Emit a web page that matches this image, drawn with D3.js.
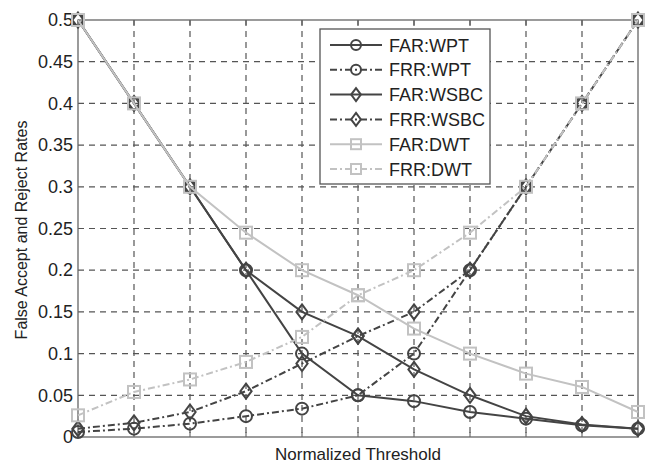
<!DOCTYPE html>
<html>
<head>
<meta charset="utf-8">
<script src="https://cdn.jsdelivr.net/npm/d3@7"></script>
<style>
  body { margin: 0; background: #fff; }
  text { font-family: "Liberation Sans", Arial, sans-serif; fill: #222; }
</style>
</head>
<body>
<svg id="chart" width="646" height="463"></svg>
<script>
// thresholds (no labels on x axis)
var thresholds = [0, 1, 2, 3, 4, 5, 6, 7, 8, 9, 10];
var yTicks = [0, 0.05, 0.1, 0.15, 0.2, 0.25, 0.3, 0.35, 0.4, 0.45, 0.5];

var far_wpt  = [0.5, 0.4, 0.3, 0.2, 0.1, 0.05, 0.043, 0.03, 0.022, 0.014, 0.01];
var frr_wpt  = [0.006, 0.01, 0.016, 0.025, 0.034, 0.05, 0.1, 0.2, 0.3, 0.4, 0.5];
var far_wsbc = [0.5, 0.4, 0.3, 0.2, 0.15, 0.121, 0.081, 0.05, 0.025, 0.015, 0.01];
var frr_wsbc = [0.01, 0.017, 0.03, 0.055, 0.088, 0.121, 0.15, 0.2, 0.3, 0.4, 0.5];
var far_dwt  = [0.5, 0.4, 0.3, 0.245, 0.2, 0.17, 0.13, 0.1, 0.076, 0.06, 0.03];
var frr_dwt  = [0.026, 0.054, 0.069, 0.09, 0.12, 0.17, 0.2, 0.245, 0.3, 0.4, 0.5];

var dark = "#444444", light = "#c2c2c2";
var dashDot = "7,3,2,3";

var series = [
  {name: "FAR:WPT",  values: far_wpt,  color: dark,  dash: null,    marker: "circle"},
  {name: "FRR:WPT",  values: frr_wpt,  color: dark,  dash: dashDot, marker: "circle"},
  {name: "FAR:WSBC", values: far_wsbc, color: dark,  dash: null,    marker: "diamond"},
  {name: "FRR:WSBC", values: frr_wsbc, color: dark,  dash: dashDot, marker: "diamond"},
  {name: "FAR:DWT",  values: far_dwt,  color: light, dash: null,    marker: "square"},
  {name: "FRR:DWT",  values: frr_dwt,  color: light, dash: dashDot, marker: "square"}
];

var svg = d3.select("#chart");
var mLeft = 78, mRight = 638, mTop = 20, mBottom = 437;

var x = d3.scaleLinear().domain([0, 10]).range([mLeft, mRight]);
var y = d3.scaleLinear().domain([0, 0.5]).range([mBottom, mTop]);

// grid
var grid = svg.append("g");
grid.selectAll(".vg").data(thresholds.slice(1, -1)).enter().append("line")
    .attr("x1", d => x(d)).attr("x2", d => x(d))
    .attr("y1", mTop).attr("y2", mBottom)
    .attr("stroke", "#555").attr("stroke-width", 1.2).attr("stroke-dasharray", "6,5");
grid.selectAll(".hg").data(yTicks.slice(1, -1)).enter().append("line")
    .attr("x1", mLeft).attr("x2", mRight)
    .attr("y1", d => y(d)).attr("y2", d => y(d))
    .attr("stroke", "#555").attr("stroke-width", 1.2).attr("stroke-dasharray", "6,5");

// axes
var yAxis = d3.axisLeft(y).tickValues(yTicks).tickSize(0).tickPadding(5)
    .tickFormat(d => d3.format("~g")(d));
var gy = svg.append("g").attr("transform", "translate(" + mLeft + ",0)").call(yAxis);
gy.select(".domain").remove();
gy.selectAll("text").style("font-size", "18px").attr("fill", "#222");

// ticks along bottom and top (inward)
svg.append("g").selectAll("line").data(thresholds).enter().append("line")
    .attr("x1", d => x(d)).attr("x2", d => x(d))
    .attr("y1", mBottom).attr("y2", mBottom - 5)
    .attr("stroke", "#555");
svg.append("g").selectAll("line").data(thresholds).enter().append("line")
    .attr("x1", d => x(d)).attr("x2", d => x(d))
    .attr("y1", mTop).attr("y2", mTop + 5)
    .attr("stroke", "#555");

svg.append("rect").attr("x", mLeft).attr("y", mTop)
    .attr("width", mRight - mLeft).attr("height", mBottom - mTop)
    .attr("fill", "none").attr("stroke", "#666").attr("stroke-width", 1.3);

// markers
function drawMarker(g, m, cx, cy, color, r) {
  if (m === "circle") {
    g.append("circle").attr("cx", cx).attr("cy", cy).attr("r", r)
      .attr("fill", "none").attr("stroke", color).attr("stroke-width", 2);
  } else if (m === "diamond") {
    var s = r + 1.5;
    g.append("path")
      .attr("d", "M" + cx + "," + (cy - s) + "L" + (cx + s * 0.75) + "," + cy +
                 "L" + cx + "," + (cy + s) + "L" + (cx - s * 0.75) + "," + cy + "Z")
      .attr("fill", "none").attr("stroke", color).attr("stroke-width", 2);
  } else {
    g.append("rect").attr("x", cx - r).attr("y", cy - r)
      .attr("width", 2 * r).attr("height", 2 * r)
      .attr("fill", "none").attr("stroke", color).attr("stroke-width", 2);
  }
}

var line = d3.line().x((d, i) => x(thresholds[i])).y(d => y(d));

// plotted in legend order, so later series sit on top
series.forEach(function(s) {
  var g = svg.append("g");
  g.append("path").attr("d", line(s.values))
    .attr("fill", "none").attr("stroke", s.color).attr("stroke-width", 2)
    .attr("stroke-dasharray", s.dash);
  s.values.forEach(function(v, i) {
    drawMarker(g, s.marker, x(thresholds[i]), y(v), s.color, 6);
  });
});

// legend
var lg = svg.append("g");
lg.append("rect").attr("x", 320).attr("y", 29).attr("width", 170).attr("height", 155)
  .attr("fill", "#fff").attr("stroke", "#555").attr("stroke-width", 1.3);
series.forEach(function(s, i) {
  var ly = 45 + i * 24.8;
  lg.append("line").attr("x1", 330).attr("x2", 382).attr("y1", ly).attr("y2", ly)
    .attr("stroke", s.color).attr("stroke-width", 2).attr("stroke-dasharray", s.dash);
  drawMarker(lg, s.marker, 356, ly, s.color, 5);
  lg.append("text").attr("x", 389).attr("y", ly + 6.5)
    .style("font-size", "18px").text(s.name);
});

// titles
svg.append("text").attr("x", (mLeft + mRight) / 2).attr("y", 460)
  .attr("text-anchor", "middle").style("font-size", "17px").text("Normalized Threshold");
svg.append("text").attr("transform", "translate(27,230) rotate(-90)")
  .attr("text-anchor", "middle").style("font-size", "16px").text("False Accept and Reject Rates");
</script>
</body>
</html>
